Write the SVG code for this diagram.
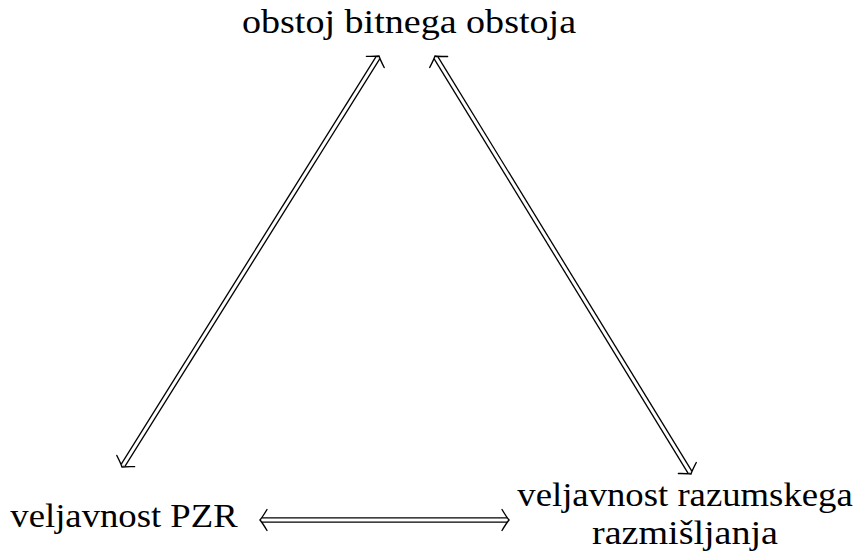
<svg xmlns="http://www.w3.org/2000/svg" width="857" height="551" viewBox="0 0 857 551">
  <style>
    .nodetext { fill: #000; text-anchor: middle; }
    .rail { fill: none; stroke: #000; stroke-width: 5.6; stroke-linecap: butt; }
    .gap { fill: none; stroke: #fff; stroke-width: 3; stroke-linecap: butt; }
    .tips { fill: none; stroke: none; marker-start: url(#implies); marker-end: url(#implies); }
  </style>
  <defs>
    <!-- curved "implies" chevron, tip at the origin pointing along +x -->
    <marker id="implies" markerUnits="userSpaceOnUse" orient="auto-start-reverse" refX="0" refY="0" markerWidth="30" markerHeight="30" overflow="visible">
      <path d="M -7,-10.5 Q -2.5,-3 0,0 Q -2.5,3 -7,10.5" fill="none" stroke="#000" stroke-width="1.4" stroke-linecap="round"/>
    </marker>
  </defs>

  <g id="connectors">
    <!-- top node to left node -->
    <path class="rail" d="M 377.9,57.7 L 123.1,465.3"/>
    <path class="gap" d="M 377.9,57.7 L 123.1,465.3"/>
    <path class="tips" d="M 379,56 L 122,467"/>
    <!-- top node to right node -->
    <path class="rail" d="M 436,57.7 L 690,472.3"/>
    <path class="gap" d="M 436,57.7 L 690,472.3"/>
    <path class="tips" d="M 435,56 L 691,474"/>
    <!-- left node to right node -->
    <path class="rail" d="M 262,520 L 507,520"/>
    <path class="gap" d="M 262,520 L 507,520"/>
    <path class="tips" d="M 260,520 L 509,520"/>
  </g>

  <!-- labels are widened slightly to the metrics of the original typeface -->
  <g id="node-top">
    <text class="nodetext" font-family="Liberation Serif" font-size="34" transform="translate(409,33) scale(1.12,1)">obstoj bitnega obstoja</text>
  </g>
  <g id="node-left">
    <text class="nodetext" font-family="Liberation Serif" font-size="34" transform="translate(124,527) scale(1.08,1)">veljavnost PZR</text>
  </g>
  <g id="node-right">
    <text class="nodetext" font-family="Liberation Serif" font-size="34" transform="translate(685,506) scale(1.08,1)">veljavnost razumskega</text>
    <text class="nodetext" font-family="Liberation Serif" font-size="34" transform="translate(685,544) scale(1.12,1)">razmišljanja</text>
  </g>
</svg>
